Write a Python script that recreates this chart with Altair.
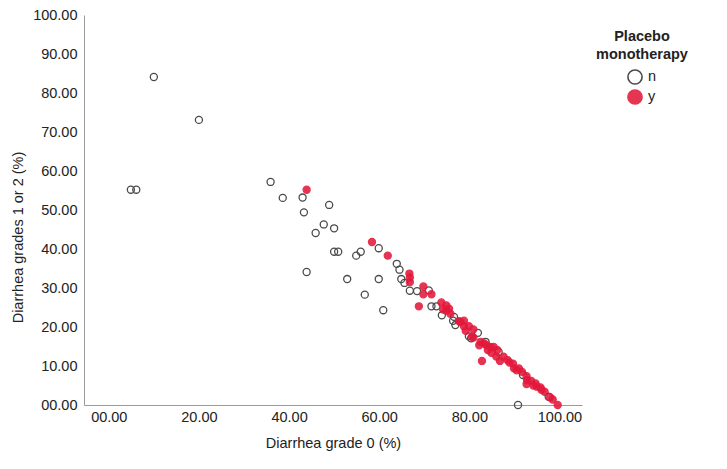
import altair as alt
import pandas as pd

# Open circles: Placebo monotherapy = n
n_x = [10.0, 20.0, 4.9, 6.1, 35.9, 38.6, 43.0, 43.3, 48.9, 47.7, 50.0, 45.9, 50.0, 50.9,
       43.9, 55.9, 54.9, 59.9, 52.9, 59.9, 56.8, 60.9, 63.9, 64.5, 64.9, 65.6, 66.8, 68.4,
       71.0, 71.6, 72.7, 73.9, 76.6, 76.4, 76.9, 81.9, 79.9, 80.4, 83.6, 86.5, 91.9, 97.6, 90.8]
n_y = [84.1, 73.1, 55.2, 55.2, 57.2, 53.1, 53.2, 49.4, 51.3, 46.3, 45.3, 44.1, 39.3, 39.3,
       34.1, 39.3, 38.3, 40.2, 32.3, 32.3, 28.3, 24.3, 36.2, 34.7, 32.3, 31.3, 29.3, 29.2,
       29.4, 25.3, 25.3, 23.0, 22.6, 21.6, 20.5, 18.5, 17.6, 17.1, 16.2, 13.6, 7.7, 2.1, 0.0]

# Filled red: Placebo monotherapy = y
y_x = [43.9, 58.4, 61.9, 66.7, 66.8, 66.8, 69.8, 69.8, 71.6, 68.8, 73.8, 74.9, 74.2, 75.8,
       77.7, 78.8, 78.8, 79.9, 79.2, 80.9, 80.9, 82.5, 82.2, 83.8, 84.1, 84.7, 85.4, 86.2,
       84.9, 86.0, 86.8, 82.8, 87.6, 88.5, 89.7, 89.9, 91.0, 91.7, 92.7, 92.8, 92.7, 93.7,
       94.7, 95.0, 95.8, 96.7, 97.9, 99.6, 74.9, 75.5, 78.0, 80.6, 83.3, 88.9, 90.5, 94.2,
       96.0, 98.5]
y_y = [55.2, 41.8, 38.3, 33.7, 32.7, 31.5, 30.4, 28.4, 28.4, 25.3, 26.3, 25.5, 24.5, 23.4,
       21.5, 21.6, 20.2, 20.2, 19.0, 19.4, 17.3, 16.2, 15.3, 15.3, 14.1, 14.9, 14.9, 14.1,
       13.4, 12.4, 11.3, 11.3, 12.4, 11.5, 10.6, 9.4, 9.4, 8.5, 7.4, 6.4, 5.4, 6.2,
       5.5, 4.7, 4.5, 3.4, 2.0, 0.0, 24.2, 24.7, 21.3, 17.5, 15.8, 10.9, 8.9, 5.0,
       3.9, 1.4]

groups = ["n", "y"]
x_ticks = [0, 20, 40, 60, 80, 100]
y_ticks = [0, 10, 20, 30, 40, 50, 60, 70, 80, 90, 100]

RED = "#e3193c"
GRAY = "#4a4a4a"

df = pd.DataFrame({
    "g0": n_x + y_x,
    "g12": n_y + y_y,
    "grp": ["n"] * len(n_x) + ["y"] * len(y_x),
})

FONT = "Liberation Sans"

chart = alt.Chart(df).mark_circle(size=50, strokeWidth=1.3).encode(
    x=alt.X("g0:Q", title="Diarrhea grade 0 (%)",
            scale=alt.Scale(domain=[-5.5, 105], nice=False, zero=False),
            axis=alt.Axis(values=x_ticks, format="05.2f", labelPadding=5,
                          titlePadding=13)),
    y=alt.Y("g12:Q", title="Diarrhea grades 1 or 2 (%)",
            scale=alt.Scale(domain=[0, 100], nice=False),
            axis=alt.Axis(values=y_ticks, format="05.2f", labelPadding=7,
                          titlePadding=7, titleY=222)),
    fill=alt.Fill("grp:N", scale=alt.Scale(domain=groups, range=["rgba(0,0,0,0)", RED]),
                  legend=alt.Legend(title=["Placebo", "monotherapy"])),
    stroke=alt.Stroke("grp:N", scale=alt.Scale(domain=groups, range=[GRAY, RED]),
                      legend=alt.Legend(title=["Placebo", "monotherapy"])),
    opacity=alt.Opacity("grp:N", scale=alt.Scale(domain=groups, range=[1, 0.88]),
                        legend=None),
).properties(
    width=498,
    height=390,
    autosize=alt.AutoSizeParams(type="none"),
    padding={"left": 76, "top": 7, "right": 130, "bottom": 50},
    background="white",
).configure_view(
    strokeWidth=0
).configure_axis(
    grid=False,
    ticks=False,
    domainColor="#9a9a9a",
    domainWidth=1,
    labelFont=FONT,
    labelFontSize=14.5,
    labelColor="#222222",
    titleFont=FONT,
    titleFontSize=14.5,
    titleFontWeight="normal",
    titleColor="#222222",
).configure_legend(
    orient="none",
    legendX=512,
    legendY=15,
    padding=0,
    titleFont=FONT,
    titleFontSize=14.5,
    titleFontWeight="bold",
    titleColor="#222222",
    titleLineHeight=17.5,
    titleAnchor="middle",
    titleAlign="center",
    titlePadding=7,
    labelFont=FONT,
    labelFontSize=14.5,
    labelColor="#222222",
    symbolSize=200,
    symbolStrokeWidth=1.6,
    symbolOffset=0,
    labelOffset=5,
    rowPadding=-2,
)

chart.save("out.html", embed_options={"renderer": "svg", "actions": False})
